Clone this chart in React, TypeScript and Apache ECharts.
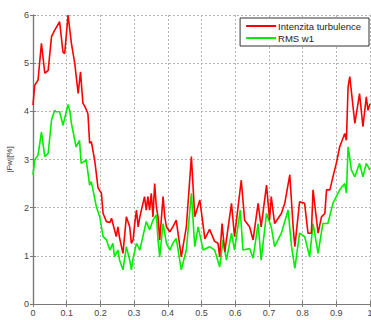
import React, { useEffect, useRef } from "react";
import * as echarts from "echarts";

const redX = [0.000,0.005,0.015,0.025,0.035,0.045,0.055,0.064,0.079,0.089,0.094,0.104,0.114,0.124,0.134,0.141,0.148,0.156,0.163,0.168,0.173,0.183,0.193,0.203,0.208,0.218,0.228,0.233,0.247,0.252,0.257,0.267,0.277,0.287,0.292,0.297,0.302,0.307,0.312,0.317,0.331,0.336,0.341,0.346,0.351,0.356,0.361,0.366,0.371,0.376,0.386,0.391,0.396,0.406,0.415,0.425,0.440,0.455,0.470,0.480,0.495,0.510,0.524,0.539,0.549,0.554,0.561,0.569,0.589,0.598,0.618,0.628,0.643,0.653,0.668,0.677,0.693,0.702,0.707,0.717,0.737,0.747,0.762,0.772,0.777,0.791,0.806,0.816,0.826,0.831,0.846,0.856,0.866,0.871,0.881,0.890,0.900,0.910,0.925,0.930,0.935,0.940,0.955,0.969,0.979,0.989,0.994,1.000];
const redY = [4.13,4.54,4.65,5.41,4.79,4.85,5.55,5.68,5.86,5.23,5.20,6.00,5.41,4.99,4.37,4.82,4.17,4.07,3.95,3.34,3.37,2.99,2.41,2.30,1.88,1.71,1.69,1.78,1.40,1.60,1.37,1.05,1.81,1.60,1.26,1.33,1.68,1.95,1.60,1.81,2.23,1.95,2.23,1.95,2.30,1.81,2.50,2.02,1.81,1.33,2.23,1.81,1.60,1.50,1.60,1.74,0.98,1.60,3.06,1.81,2.16,1.35,1.55,1.30,1.26,0.98,1.67,1.08,2.09,1.40,2.57,1.74,1.60,1.33,2.09,1.60,2.47,1.74,2.23,1.67,1.88,2.09,2.68,1.60,1.19,2.12,2.09,1.47,1.47,2.37,1.47,1.81,1.88,2.37,2.37,2.64,2.92,3.26,3.54,3.40,4.51,4.72,3.75,4.37,3.68,4.30,4.02,4.16];

const greenX = [0.000,0.005,0.015,0.025,0.035,0.045,0.055,0.064,0.069,0.079,0.089,0.104,0.109,0.114,0.128,0.138,0.143,0.158,0.168,0.173,0.188,0.198,0.208,0.218,0.228,0.237,0.242,0.252,0.257,0.267,0.277,0.287,0.292,0.297,0.307,0.317,0.326,0.336,0.346,0.356,0.366,0.371,0.376,0.386,0.396,0.406,0.415,0.425,0.440,0.455,0.470,0.480,0.490,0.505,0.524,0.539,0.554,0.564,0.574,0.589,0.598,0.615,0.623,0.643,0.653,0.668,0.677,0.693,0.707,0.717,0.737,0.757,0.767,0.777,0.791,0.806,0.821,0.831,0.846,0.860,0.875,0.890,0.910,0.925,0.930,0.935,0.945,0.955,0.969,0.979,0.989,1.000];
const greenY = [2.68,2.99,3.09,3.57,3.06,3.13,3.82,4.02,3.99,3.99,3.71,4.14,4.02,3.75,3.26,3.40,2.92,2.99,2.47,2.54,2.02,1.81,1.40,1.33,1.12,1.26,0.98,1.12,0.91,0.71,1.19,0.91,0.71,0.95,1.26,1.12,1.40,1.71,1.54,1.74,1.85,1.33,0.98,1.67,1.26,1.12,1.26,1.36,0.71,1.12,2.30,1.19,1.60,1.12,1.19,1.12,0.77,1.33,0.91,1.47,1.12,1.95,1.12,1.15,0.95,1.67,0.91,1.88,1.60,1.19,1.47,1.95,1.20,0.74,1.47,1.40,0.98,1.67,1.05,1.67,1.67,2.09,2.37,2.50,2.30,3.26,2.78,2.64,2.92,2.64,2.92,2.78];

const seriesNames = ["Intenzita turbulence", "RMS w1"];
const xTickLabels = ["0", "0.1", "0.2", "0.3", "0.4", "0.5", "0.6", "0.7", "0.8", "0.9", "1"];
const xName = "x[-]";
const yName = "|Fw|[%]";

export default function App() {
  const ref = useRef<HTMLDivElement>(null);
  useEffect(() => {
    if (!ref.current) return;
    const chart = echarts.init(ref.current, null, { renderer: "svg" });
    const font = "Liberation Sans, Arial, sans-serif";
    const frame = { show: true, lineStyle: { color: "#7a7a7a", width: 1.2 } };
    const grid = { show: true, lineStyle: { color: "#b5b5b5", type: [2, 2], width: 1 } };
    chart.setOption({
      animation: false,
      backgroundColor: "#ffffff",
      grid: { left: 33, right: 1, top: 15, bottom: 16, containLabel: false, outerBoundsMode: "none" },
      legend: {
        data: seriesNames,
        orient: "vertical",
        right: 2,
        top: 18,
        padding: [3, 8, 3, 6],
        itemGap: 2,
        itemWidth: 30,
        itemHeight: 2,
        icon: "rect",
        backgroundColor: "#ffffff",
        borderColor: "#333333",
        borderWidth: 1,
        borderRadius: 0,
        textStyle: { fontFamily: font, fontSize: 9.5, color: "#222222", padding: [0, 0, 0, -3] },
      },
      xAxis: [
        {
          type: "value",
          min: 0,
          max: 1,
          interval: 0.1,
          name: xName,
          nameLocation: "middle",
          nameGap: 17,
          nameTextStyle: { fontFamily: font, fontSize: 9, color: "#333" },
          axisLine: frame,
          axisTick: { show: true, inside: true, length: 3, lineStyle: { color: "#7a7a7a" } },
          axisLabel: {
            fontFamily: font,
            fontSize: 9,
            color: "#444",
            margin: 4,
            formatter: (v: number) => xTickLabels[Math.round(v * 10)] ?? "",
          },
          splitLine: grid,
        },
        {
          type: "value",
          position: "top",
          min: 0,
          max: 1,
          interval: 0.1,
          axisLine: frame,
          axisTick: { show: true, inside: true, length: 3, lineStyle: { color: "#7a7a7a" } },
          axisLabel: { show: false },
          splitLine: { show: false },
        },
      ],
      yAxis: [
        {
          type: "value",
          min: 0,
          max: 6,
          interval: 1,
          name: yName,
          nameLocation: "middle",
          nameGap: 17,
          nameTextStyle: { fontFamily: font, fontSize: 8, color: "#333" },
          axisLine: frame,
          axisTick: { show: true, inside: true, length: 3, lineStyle: { color: "#7a7a7a" } },
          axisLabel: { fontFamily: font, fontSize: 9, color: "#444", margin: 4 },
          splitLine: grid,
        },
        {
          type: "value",
          position: "right",
          min: 0,
          max: 6,
          interval: 1,
          axisLine: frame,
          axisTick: { show: true, inside: true, length: 3, lineStyle: { color: "#7a7a7a" } },
          axisLabel: { show: false },
          splitLine: { show: false },
        },
      ],
      series: [
        {
          name: seriesNames[0],
          type: "line",
          data: redX.map((x, i) => [x, redY[i]]),
          showSymbol: false,
          symbol: "none",
          itemStyle: { color: "#ff0000" },
          lineStyle: { color: "#ff0000", width: 1.6 },
          z: 3,
        },
        {
          name: seriesNames[1],
          type: "line",
          data: greenX.map((x, i) => [x, greenY[i]]),
          showSymbol: false,
          symbol: "none",
          itemStyle: { color: "#00ee00" },
          lineStyle: { color: "#00ee00", width: 1.6 },
          z: 2,
        },
      ],
    });
    return () => chart.dispose();
  }, []);
  return <div ref={ref} style={{ width: 371, height: 320, position: "absolute", left: 0, top: 0 }} />;
}
